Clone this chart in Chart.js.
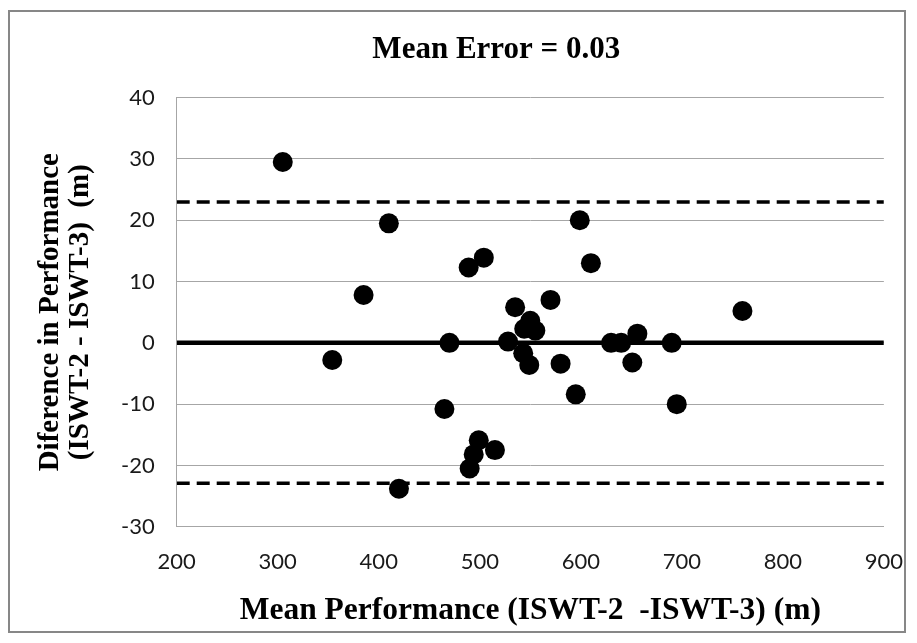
<!DOCTYPE html>
<html>
<head>
<meta charset="utf-8">
<script src="https://cdn.jsdelivr.net/npm/chart.js@4/dist/chart.umd.min.js"></script>
<style>
  body { margin: 0; background: #fff; }
  #wrap { position: relative; width: 917px; height: 643px; }
  #frame {
    position: absolute; left: 8px; top: 10px; width: 898px; height: 623px;
    box-sizing: border-box; border: 2px solid #878787; pointer-events: none;
  }
</style>
</head>
<body>
<div id="wrap">
  <canvas id="baChart" width="917" height="643"></canvas>
  <div id="frame"></div>
</div>
<script>
// mean performance (x) and difference (y) per subject
const meanPerf = [
  305, 410, 385, 354, 420, 470, 465, 489, 504, 490, 494, 499, 515,
  528, 535, 544, 550, 555, 543, 549, 570, 580, 595, 599, 610,
  630, 640, 656, 651, 690, 695, 760
];
const diffPerf = [
  29.5, 19.5, 7.8, -2.8, -23.8, 0, -10.8, 12.3, 13.9, -20.5, -18.2, -15.9, -17.5,
  0.2, 5.8, 2.3, 3.6, 2.0, -1.7, -3.6, 7.0, -3.4, -8.4, 20.0, 13.0,
  0, 0, 1.5, -3.2, 0, -10.0, 5.2
];
const meanError = 0.03;
const upperLimit = 23.0;
const lowerLimit = -22.9;
const xRange = [200, 900];
const yRange = [-30, 40];

const points = meanPerf.map((x, i) => ({ x: x, y: diffPerf[i] }));
const hLine = (v) => xRange.map((x) => ({ x: x, y: v }));

const gridGray = "#a6a6a6";

// move the title a bit left of the plot centre, like the original
const titleShift = {
  id: "titleShift",
  afterLayout(chart) {
    const t = chart.titleBlock;
    if (t) {
      t.left -= 34;
      t.right -= 34;
    }
  }
};

const config = {
  type: "scatter",
  data: {
    datasets: [
      {
        label: "Difference",
        data: points,
        backgroundColor: "#000",
        borderWidth: 0,
        pointRadius: 10,
        pointHoverRadius: 10
      },
      {
        label: "Mean",
        data: hLine(meanError),
        showLine: true,
        borderColor: "#000",
        borderWidth: 4.5,
        pointRadius: 0
      },
      {
        label: "Upper limit",
        data: hLine(upperLimit),
        showLine: true,
        borderColor: "#000",
        borderWidth: 3.5,
        borderDash: [13, 7],
        pointRadius: 0
      },
      {
        label: "Lower limit",
        data: hLine(lowerLimit),
        showLine: true,
        borderColor: "#000",
        borderWidth: 3.5,
        borderDash: [13, 7],
        pointRadius: 0
      }
    ]
  },
  options: {
    responsive: false,
    animation: false,
    devicePixelRatio: 1,
    layout: { padding: { top: 12, left: 11, right: 24, bottom: 12 } },
    plugins: {
      legend: { display: false },
      tooltip: { enabled: false },
      title: {
        display: true,
        fullSize: false,
        text: "Mean Error = " + meanError.toFixed(2),
        color: "#000",
        font: { family: "Liberation Serif", size: 31, weight: "bold", lineHeight: "36px" },
        padding: { top: 20, bottom: 29.7 }
      }
    },
    scales: {
      x: {
        type: "linear",
        min: xRange[0],
        max: xRange[1],
        grid: { display: false },
        border: { display: true, color: gridGray, width: 1 },
        ticks: {
          stepSize: 100,
          padding: 14,
          color: "#1a1a1a",
          font: { family: "Lato", size: 22 }
        },
        title: {
          display: true,
          text: "Mean Performance (ISWT-2  -ISWT-3) (m)",
          color: "#000",
          font: { family: "Liberation Serif", size: 31.5, weight: "bold", lineHeight: "36px" },
          padding: { top: 0, bottom: 2 }
        },
        afterFit(scale) {
          scale.height = 104.3;
        }
      },
      y: {
        min: yRange[0],
        max: yRange[1],
        grid: { color: gridGray, lineWidth: 1, drawTicks: false },
        border: { display: true, color: gridGray, width: 1 },
        ticks: {
          stepSize: 10,
          padding: 22,
          color: "#1a1a1a",
          font: { family: "Lato", size: 22 }
        },
        title: {
          display: true,
          text: ["Diference in Performance", "(ISWT-2 - ISWT-3)  (m)"],
          color: "#000",
          font: { family: "Liberation Serif", size: 29, weight: "bold", lineHeight: "30px" },
          padding: { top: 25, bottom: 0 }
        },
        afterFit(scale) {
          scale.width = 165.7;
        }
      }
    }
  },
  plugins: [titleShift]
};

const chart = new Chart(document.getElementById("baChart"), config);
</script>
</body>
</html>
